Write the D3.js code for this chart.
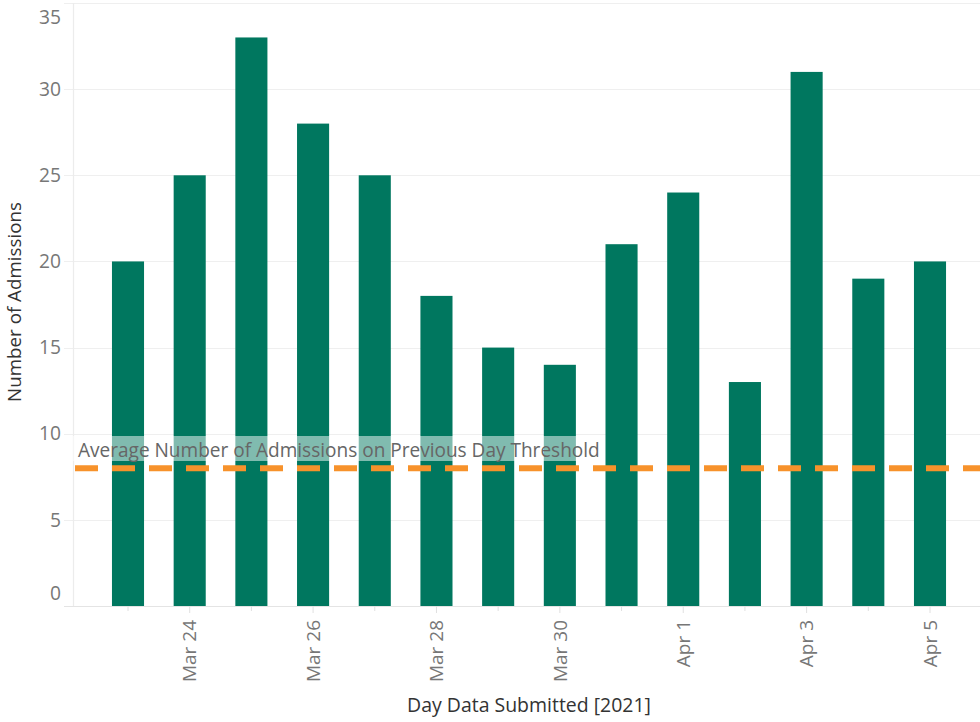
<!DOCTYPE html>
<html><head><meta charset="utf-8">
<script src="https://cdn.jsdelivr.net/npm/d3@7"></script>
<style>
body{margin:0;background:#fff;}
svg{display:block;font-family:"Open Sans","Noto Sans",sans-serif;}
</style></head>
<body>
<svg id="c" width="980" height="722"></svg>
<script>
const dates = ["2021-03-23","2021-03-24","2021-03-25","2021-03-26","2021-03-27","2021-03-28","2021-03-29","2021-03-30","2021-03-31","2021-04-01","2021-04-02","2021-04-03","2021-04-04","2021-04-05"];
const admissions = [20,25,33,28,25,18,15,14,21,24,13,31,19,20];
const yTicks = [0,5,10,15,20,25,30,35];
const xTickDates = ["2021-03-24","2021-03-26","2021-03-28","2021-03-30","2021-04-01","2021-04-03","2021-04-05"];
const threshold = 8;
const thresholdLabel = "Average Number of Admissions on Previous Day Threshold";
const yTitle = "Number of Admissions";
const xTitle = "Day Data Submitted [2021]";

const parse = d3.utcParse("%Y-%m-%d");
const fmt = d3.utcFormat("%b %-d");
const data = dates.map((d,i)=>({date:parse(d), v:admissions[i]}));

const svg = d3.select("#c");
const plotL = 73, plotR = 980, plotT = 3, plotB = 606;

// helper: size a font so a sample string reaches a target width
function fitSize(sample, target, base){
  const tmp = svg.append("text").attr("font-size",base).text(sample);
  const w = tmp.node().getComputedTextLength();
  tmp.remove();
  return base*target/w;
}
const tickSize = fitSize("20", 22, 16);
const xTickSize = fitSize("Mar 24", 62, 16);
const yTitleSize = fitSize(yTitle, 200, 16);
const xTitleSize = fitSize(xTitle, 244, 16);

const x = d3.scaleUtc().domain([parse(dates[0]), parse(dates[dates.length-1])]).range([128, 930]);
const y = d3.scaleLinear().domain([0,35]).range([plotB, plotT]);
const dayStep = x(d3.utcDay.offset(parse(dates[0]),1)) - x(parse(dates[0]));
const barW = dayStep*0.52;

// gridlines
svg.append("g").selectAll("line").data(yTicks).join("line")
  .attr("x1",64).attr("x2",plotR).attr("y1",d=>Math.round(y(d))+0.5).attr("y2",d=>Math.round(y(d))+0.5)
  .attr("stroke",d=>d===0?"#e4e4e4":"#efefef").attr("stroke-width",1.2);
// y axis line
svg.append("line").attr("x1",plotL+0.5).attr("x2",plotL+0.5).attr("y1",plotT).attr("y2",plotB)
  .attr("stroke","#ececec").attr("stroke-width",1.2);

// y tick labels (end labels nudged inward like the original)
svg.append("g").selectAll("text").data(yTicks).join("text")
  .attr("x",61).attr("y",d=>y(d) + (d===35?14:(d===0?-13:0))).attr("dy","0.35em")
  .attr("text-anchor","end").attr("fill","#777").attr("font-size",tickSize).text(d=>d);

// bars
svg.append("g").selectAll("rect").data(data).join("rect")
  .attr("x",d=>x(d.date)-barW/2).attr("width",barW)
  .attr("y",d=>y(d.v)).attr("height",d=>y(0)-y(d.v))
  .attr("fill","#00775f");

// x ticks (minor every day, major every 2 days)
const allDays = d3.utcDay.range(parse(dates[0]), d3.utcDay.offset(parse(dates[dates.length-1]),1));
svg.append("g").selectAll("line").data(allDays).join("line")
  .attr("x1",d=>x(d)).attr("x2",d=>x(d)).attr("y1",plotB).attr("y2",d=>xTickDates.includes(d3.utcFormat("%Y-%m-%d")(d))?613:611)
  .attr("stroke","#e0e0e0").attr("stroke-width",1);

svg.append("g").selectAll("text").data(xTickDates.map(parse)).join("text")
  .attr("transform",d=>`translate(${x(d)},620) rotate(-90)`)
  .attr("text-anchor","end").attr("dy","0.35em").attr("fill","#777").attr("font-size",xTickSize)
  .text(d=>fmt(d));

// threshold label with translucent background
const lbl = svg.append("g");
const bg = lbl.append("rect").attr("x",plotL).attr("y",436).attr("height",25).attr("fill","#fff").attr("fill-opacity",0.5);
const t = lbl.append("text").attr("x",78).attr("y",457).attr("fill","#666").attr("font-size",16).text(thresholdLabel);
let w = t.node().getComputedTextLength();
t.attr("font-size",16*522/w);
w = t.node().getComputedTextLength();
bg.attr("width",(78+w+5)-plotL);

// threshold line
svg.append("line").attr("x1",plotL+2).attr("x2",plotR).attr("y1",y(threshold)).attr("y2",y(threshold))
  .attr("stroke","#f7922b").attr("stroke-width",6).attr("stroke-dasharray","23,14");

// axis titles
svg.append("text").attr("transform","translate(21,302) rotate(-90)").attr("text-anchor","middle")
  .attr("fill","#333").attr("font-size",yTitleSize).text(yTitle);
svg.append("text").attr("x",529).attr("y",712).attr("text-anchor","middle")
  .attr("fill","#333").attr("font-size",xTitleSize).text(xTitle);
</script>
</body></html>
